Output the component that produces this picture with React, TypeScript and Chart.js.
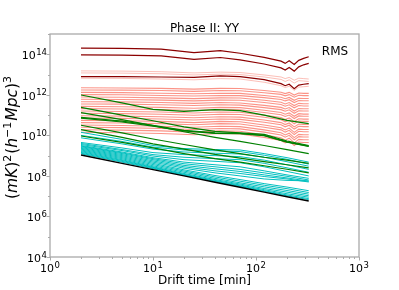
import React, { useEffect, useRef } from "react";
import { Chart, registerables } from "chart.js";

Chart.register(...registerables);

const TITLE = "Phase II: YY";
const X_LABEL = "Drift time [min]";
const ANNOT = "RMS";

// drift times (minutes)
const xWiggle = [2, 5, 12, 25, 45, 70, 120, 175, 192, 210, 235, 260, 290, 325];
const xSmooth = [2, 5, 10, 20, 40, 70, 120, 200, 325];

// all series stored as log10 of (mK)^2 (h^-1 Mpc)^3
const darkRedLog = [
  [14.30, 14.29, 14.25, 14.08, 14.18, 14.05, 13.85, 13.66, 13.55, 13.68, 13.50, 13.70, 13.80, 13.88],
  [13.97, 13.96, 13.92, 13.75, 13.84, 13.72, 13.52, 13.33, 13.22, 13.35, 13.17, 13.38, 13.48, 13.55],
  [12.90, 12.90, 12.88, 12.86, 12.93, 12.90, 12.75, 12.55, 12.45, 12.52, 12.30, 12.48, 12.52, 12.55],
];

const salmonFaintLog = [
  [13.18, 13.17, 13.14, 13.08, 13.12, 13.10, 12.98, 12.88, 12.80, 12.86, 12.72, 12.82, 12.80, 12.78],
  [13.08, 13.07, 13.04, 12.98, 13.02, 13.00, 12.88, 12.76, 12.66, 12.74, 12.58, 12.70, 12.68, 12.66],
  [12.82, 12.81, 12.78, 12.74, 12.80, 12.78, 12.62, 12.45, 12.36, 12.42, 12.22, 12.38, 12.40, 12.42],
];

const salmonLog = [
  [12.35, 12.34, 12.32, 12.28, 12.32, 12.31, 12.21, 12.13, 12.06, 12.12, 11.99, 12.09, 12.07, 12.07],
  [12.24, 12.23, 12.21, 12.17, 12.21, 12.20, 12.10, 12.02, 11.95, 12.01, 11.88, 11.98, 11.96, 11.96],
  [12.12, 12.11, 12.08, 12.05, 12.08, 12.07, 11.97, 11.88, 11.81, 11.87, 11.73, 11.83, 11.82, 11.82],
  [12.01, 12.00, 11.97, 11.94, 11.97, 11.96, 11.86, 11.77, 11.70, 11.76, 11.62, 11.72, 11.71, 11.71],
  [11.89, 11.88, 11.85, 11.81, 11.85, 11.84, 11.73, 11.63, 11.55, 11.62, 11.47, 11.58, 11.56, 11.56],
  [11.78, 11.77, 11.74, 11.70, 11.74, 11.73, 11.62, 11.52, 11.44, 11.51, 11.36, 11.47, 11.45, 11.45],
  [11.66, 11.65, 11.62, 11.58, 11.62, 11.60, 11.48, 11.38, 11.30, 11.37, 11.20, 11.32, 11.31, 11.31],
  [11.55, 11.54, 11.51, 11.47, 11.51, 11.49, 11.37, 11.27, 11.19, 11.26, 11.09, 11.21, 11.20, 11.20],
  [11.43, 11.41, 11.38, 11.34, 11.38, 11.37, 11.24, 11.13, 11.04, 11.11, 10.94, 11.07, 11.05, 11.05],
  [11.32, 11.30, 11.27, 11.23, 11.27, 11.26, 11.13, 11.02, 10.93, 11.00, 10.83, 10.96, 10.94, 10.94],
  [11.20, 11.18, 11.15, 11.10, 11.15, 11.14, 11.00, 10.88, 10.78, 10.86, 10.68, 10.82, 10.80, 10.80],
  [11.09, 11.07, 11.04, 10.99, 11.04, 11.03, 10.89, 10.77, 10.67, 10.75, 10.57, 10.71, 10.69, 10.69],
  [10.97, 10.95, 10.92, 10.87, 10.92, 10.90, 10.76, 10.63, 10.53, 10.61, 10.42, 10.56, 10.54, 10.54],
  [10.86, 10.84, 10.81, 10.76, 10.81, 10.79, 10.65, 10.52, 10.42, 10.50, 10.31, 10.45, 10.43, 10.43],
  [10.74, 10.72, 10.69, 10.63, 10.69, 10.67, 10.51, 10.38, 10.27, 10.36, 10.15, 10.31, 10.29, 10.29],
  [10.63, 10.61, 10.58, 10.52, 10.58, 10.56, 10.40, 10.27, 10.16, 10.25, 10.04, 10.20, 10.18, 10.18],
  [10.51, 10.49, 10.45, 10.40, 10.45, 10.43, 10.27, 10.13, 10.02, 10.11, 9.89, 10.05, 10.03, 10.03],
  [10.40, 10.38, 10.34, 10.29, 10.34, 10.32, 10.16, 10.02, 9.91, 10.00, 9.78, 9.94, 9.92, 9.92],
  [10.28, 10.26, 10.22, 10.16, 10.22, 10.20, 10.03, 9.88, 9.76, 9.86, 9.63, 9.80, 9.78, 9.78],
  [10.15, 10.13, 10.09, 10.03, 10.09, 10.07, 9.90, 9.75, 9.63, 9.73, 9.50, 9.67, 9.65, 9.65],
];

const greenLog = [
  [11.99, 11.60, 11.28, 11.18, 11.27, 11.22, 11.00, 10.74, 10.58],
  [11.38, 11.00, 10.72, 10.42, 10.20, 10.12, 10.05, 9.72, 9.50],
  [10.89, 10.70, 10.50, 10.25, 10.12, 10.10, 10.00, 9.68, 9.47],
  [10.85, 10.66, 10.46, 10.22, 10.10, 10.08, 9.98, 9.66, 9.45],
  [11.12, 10.78, 10.48, 10.18, 9.90, 9.70, 9.50, 9.30, 9.10],
  [10.50, 10.12, 9.82, 9.55, 9.28, 9.10, 8.92, 8.78, 8.62],
  [10.28, 9.90, 9.58, 9.32, 9.06, 8.88, 8.70, 8.55, 8.40],
  [9.97, 9.65, 9.38, 9.10, 8.85, 8.68, 8.50, 8.33, 8.15],
];

const cyanLog = [
  [10.15, 9.80, 9.50, 9.35, 9.30, 9.28, 9.10, 8.90, 8.68],
  [10.00, 9.70, 9.42, 9.28, 9.24, 9.20, 9.02, 8.82, 8.58],
  [9.88, 9.58, 9.32, 9.18, 9.12, 9.08, 8.92, 8.70, 8.48],
  [9.65, 9.38, 9.15, 9.05, 9.00, 8.95, 8.78, 8.55, 8.32],
  [9.60, 9.30, 9.05, 8.92, 8.85, 8.80, 8.62, 8.40, 8.18],
  [9.55, 9.25, 8.98, 8.80, 8.72, 8.65, 8.45, 8.22, 8.00],
  [9.50, 9.18, 8.90, 8.68, 8.55, 8.45, 8.25, 8.05, 7.88],
  [9.47, 9.14, 8.85, 8.60, 8.45, 8.32, 8.15, 7.98, 7.80],
  [9.44, 9.10, 8.80, 8.52, 8.35, 8.22, 8.05, 7.90, 7.74],
  [9.40, 9.05, 8.74, 8.45, 8.25, 8.12, 7.97, 7.85, 7.70],
  [9.36, 9.00, 8.68, 8.38, 8.15, 8.00, 7.85, 7.78, 7.75],
  [9.32, 8.95, 8.62, 8.30, 8.02, 7.82, 7.62, 7.45, 7.27],
  [9.28, 8.90, 8.56, 8.24, 7.95, 7.74, 7.54, 7.37, 7.18],
  [9.24, 8.85, 8.50, 8.18, 7.88, 7.66, 7.46, 7.28, 7.10],
  [9.20, 8.80, 8.45, 8.12, 7.82, 7.60, 7.38, 7.20, 7.02],
  [9.16, 8.76, 8.42, 8.08, 7.78, 7.55, 7.32, 7.12, 6.95],
  [9.12, 8.72, 8.39, 8.05, 7.75, 7.51, 7.27, 7.06, 6.88],
  [9.09, 8.68, 8.36, 8.03, 7.72, 7.48, 7.24, 7.02, 6.83],
];

const blackLog = [9.03, 8.62, 8.31, 8.00, 7.69, 7.44, 7.20, 6.97, 6.76];

const xTickExponents = [0, 1, 2, 3];
const yTickExponents = [4, 6, 8, 10, 12, 14];
const yAllExponents = [4, 5, 6, 7, 8, 9, 10, 11, 12, 13, 14, 15];

const DARKRED = "#8b0000";
const SALMON = "rgba(250,128,114,0.85)";
const SALMON_FAINT = "rgba(250,128,114,0.5)";
const GREEN = "#008000";
const CYAN = "#00bfbf";
const BLACK = "#000000";
const FRAME = "#aaaaaa";
const FONT = '"DejaVu Sans", sans-serif';

function series(xs: number[], logs: number[]) {
  return xs.map((x, i) => ({ x, y: Math.pow(10, logs[i]) }));
}

function lineDs(xs: number[], logs: number[], color: string, width = 1.1) {
  return {
    data: series(xs, logs),
    borderColor: color,
    borderWidth: width,
    pointRadius: 0,
    fill: false,
    tension: 0,
  };
}

function drawPow(ctx: CanvasRenderingContext2D, exp: string, x: number, baseY: number, supY: number, align: "center" | "right") {
  ctx.font = `11px ${FONT}`;
  const w1 = ctx.measureText("10").width;
  ctx.font = `8.5px ${FONT}`;
  const w2 = ctx.measureText(exp).width;
  const total = w1 + w2 + 0.5;
  const sx = align === "center" ? x - total / 2 : x - total;
  ctx.textAlign = "left";
  ctx.textBaseline = "alphabetic";
  ctx.font = `11px ${FONT}`;
  ctx.fillText("10", sx, baseY);
  ctx.font = `8.5px ${FONT}`;
  ctx.fillText(exp, sx + w1 + 0.5, supY);
}

const decor = {
  id: "decor",
  afterDraw(chart: any) {
    const { ctx, chartArea: a, scales } = chart;
    const xs = scales.x;
    const ys = scales.y;
    ctx.save();
    // frame
    ctx.strokeStyle = FRAME;
    ctx.lineWidth = 1.3;
    ctx.strokeRect(a.left, a.top, a.right - a.left, a.bottom - a.top);

    // x ticks
    ctx.lineWidth = 1;
    for (let d = 0; d < 3; d++) {
      for (let m = 1; m < 10; m++) {
        const v = m * Math.pow(10, d);
        const px = Math.round(xs.getPixelForValue(v)) + 0.5;
        const len = m === 1 ? 3.5 : 2;
        ctx.beginPath();
        ctx.moveTo(px, a.bottom);
        ctx.lineTo(px, a.bottom + len);
        ctx.stroke();
      }
    }
    {
      const px = Math.round(xs.getPixelForValue(1000)) + 0.5;
      ctx.beginPath();
      ctx.moveTo(px, a.bottom);
      ctx.lineTo(px, a.bottom + 3.5);
      ctx.stroke();
    }
    // y ticks
    yAllExponents.forEach((e) => {
      const py = Math.round(ys.getPixelForValue(Math.pow(10, e))) + 0.5;
      const len = yTickExponents.includes(e) ? 3.5 : 2;
      ctx.beginPath();
      ctx.moveTo(a.left - len, py);
      ctx.lineTo(a.left, py);
      ctx.stroke();
    });

    ctx.fillStyle = "#000";
    // x tick labels
    xTickExponents.forEach((e) => {
      const px = xs.getPixelForValue(Math.pow(10, e));
      drawPow(ctx, String(e), px, 272, 267.5, "center");
    });
    // y tick labels
    yTickExponents.forEach((e) => {
      const py = ys.getPixelForValue(Math.pow(10, e));
      drawPow(ctx, String(e), a.left - 3, py + 5, py + 0.5, "right");
    });

    // title
    ctx.font = `12px ${FONT}`;
    ctx.textAlign = "center";
    ctx.textBaseline = "alphabetic";
    ctx.fillText(TITLE, (a.left + a.right) / 2, 32);
    // x label
    ctx.fillText(X_LABEL, (a.left + a.right) / 2, 284);
    // annotation
    ctx.fillText(ANNOT, 335, 55);

    // y label (mathtext-like)
    const pieces: [string, string][] = [
      ["(", "n"], ["mK", "i"], [")", "n"], ["2", "s"],
      ["(", "n"], ["h", "i"], ["\u22121", "s"], ["Mpc", "i"], [")", "n"], ["3", "s"],
    ];
    const fontFor = (k: string) =>
      k === "i" ? `italic 15.5px ${FONT}` : k === "s" ? `11px ${FONT}` : `15.5px ${FONT}`;
    let total = 0;
    const widths = pieces.map(([t, k]) => {
      ctx.font = fontFor(k);
      const w = ctx.measureText(t).width + (k === "s" ? 1 : 0);
      total += w;
      return w;
    });
    ctx.translate(17, 137);
    ctx.rotate(-Math.PI / 2);
    ctx.textAlign = "left";
    let cx = -total / 2;
    pieces.forEach(([t, k], i) => {
      ctx.font = fontFor(k);
      ctx.fillText(t, cx, k === "s" ? -6.5 : 0);
      cx += widths[i];
    });
    ctx.restore();
  },
};

export default function App() {
  const ref = useRef<HTMLCanvasElement>(null);
  useEffect(() => {
    if (!ref.current) return;
    const datasets: any[] = [];
    datasets.push(lineDs(xSmooth, blackLog, BLACK, 1.4));
    greenLog.forEach((l) => datasets.push(lineDs(xSmooth, l, GREEN, 1.2)));
    darkRedLog.forEach((l) => datasets.push(lineDs(xWiggle, l, DARKRED, 1.2)));
    cyanLog.forEach((l) => datasets.push(lineDs(xSmooth, l, CYAN, 1.0)));
    salmonLog.forEach((l) => datasets.push(lineDs(xWiggle, l, SALMON, 1.1)));
    salmonFaintLog.forEach((l) => datasets.push(lineDs(xWiggle, l, SALMON_FAINT, 1.0)));

    const chart = new Chart(ref.current, {
      type: "line",
      data: { datasets },
      options: {
        animation: false,
        responsive: false,
        maintainAspectRatio: false,
        devicePixelRatio: 1,
        layout: { padding: { top: 34, right: 40, left: 0, bottom: 0 } },
        plugins: {
          legend: { display: false },
          tooltip: { enabled: false },
          title: { display: false },
        },
        elements: { point: { radius: 0 } },
        scales: {
          x: {
            type: "logarithmic",
            min: 1,
            max: 1000,
            grid: { display: false },
            border: { display: false },
            ticks: { display: false },
            afterFit: (s: any) => {
              s.height = 33;
            },
          },
          y: {
            type: "logarithmic",
            min: 1e4,
            max: 1e15,
            grid: { display: false },
            border: { display: false },
            ticks: { display: false },
            afterFit: (s: any) => {
              s.width = 50;
            },
          },
        },
      } as any,
      plugins: [decor],
    });
    return () => chart.destroy();
  }, []);
  return (
    <canvas
      ref={ref}
      width={399}
      height={290}
      style={{ position: "absolute", left: 0, top: 0, width: 399, height: 290, display: "block" }}
    />
  );
}
